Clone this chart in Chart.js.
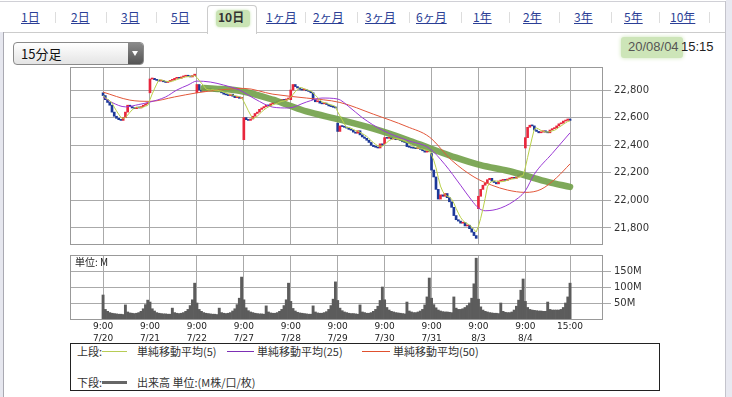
<!DOCTYPE html>
<html lang="ja">
<head>
<meta charset="utf-8">
<title>10日チャート</title>
<script src="https://cdn.jsdelivr.net/npm/chart.js@4.4.1/dist/chart.umd.min.js"></script>
<style>
body { margin: 0; width: 732px; height: 397px; background: #fff; position: relative; overflow: hidden;
       font-family: "Noto Sans CJK JP", sans-serif; color: #333; }
.abs { position: absolute; }
.tab { position: absolute; top: 8px; font-size: 12px; line-height: 18px; color: #2b3f96; text-decoration: underline; }
.sep { position: absolute; top: 12px; width: 1px; height: 11px; background: #ddd; }
#active { left: 207px; top: 5px; width: 48px; height: 28px; border: 1px solid #ccc; border-bottom: none;
          border-radius: 4px 4px 0 0; background: #fff; }
#activeHi { left: 216px; top: 10px; width: 34px; height: 17px; background: #c9e4b4; border-radius: 4px;
            box-shadow: 0 0 3px #c9e4b4; }
#sel { left: 13px; top: 42px; width: 129px; height: 21px; border: 1px solid #8a8a8a; border-radius: 4px;
       background: linear-gradient(#fff, #e4e4e4); overflow: hidden; }
#sel span { position: absolute; left: 7px; top: 1px; font-size: 13px; line-height: 19px; color: #111; }
#sel .arrow { position: absolute; right: 0; top: 0; width: 15px; height: 21px; background: linear-gradient(#8a8a8a, #555); }
#sel .arrow:after { content: ""; position: absolute; left: 4px; top: 8px; border-left: 3.5px solid transparent;
                    border-right: 3.5px solid transparent; border-top: 5px solid #fff; }
#dateHi { left: 621px; top: 37px; width: 62px; height: 21px; background: #cde5b8; border-radius: 3px; box-shadow: 0 0 4px #cde5b8; }
.dt { position: absolute; top: 39px; font-family: "Liberation Sans", Arial, sans-serif; font-size: 13px; line-height: 16px; }
canvas { position: absolute; }
#unit { left: 75px; top: 256px; font-size: 10px; line-height: 12px; color: #222; z-index: 2; }
#legend { left: 70px; top: 343px; width: 588px; height: 46px; border: 1px solid #222; background: #fff; }
.lg { position: absolute; font-size: 11px; line-height: 14px; color: #333; white-space: nowrap; }
.ln { position: absolute; height: 1px; }
</style>
</head>
<body>
<!-- frame -->
<div class="abs" style="left:0;top:1px;width:726px;height:1px;background:#d0d0d6"></div>
<div class="abs" style="left:0;top:32px;width:3px;height:365px;background:#e6e7ef"></div>
<div class="abs" style="left:3px;top:32px;width:1px;height:365px;background:#a9a9b2"></div>
<div class="abs" style="left:4px;top:32px;width:203px;height:1px;background:#ccc"></div>
<div class="abs" style="left:256px;top:32px;width:470px;height:1px;background:#ccc"></div>
<div class="abs" style="left:725px;top:1px;width:1px;height:396px;background:#c4c4cc"></div>
<div class="abs" style="left:726px;top:0;width:6px;height:397px;background:#e8e9f1"></div>

<!-- period tabs -->
<div class="abs" id="active"></div>
<div class="abs" id="activeHi"></div>
<span class="tab" style="left:21px">1日</span>
<span class="sep" style="left:55px"></span>
<span class="tab" style="left:71px">2日</span>
<span class="sep" style="left:106px"></span>
<span class="tab" style="left:121px">3日</span>
<span class="sep" style="left:156px"></span>
<span class="tab" style="left:171px">5日</span>
<span class="tab" style="left:218px;color:#333;text-decoration:none;font-weight:bold">10日</span>
<span class="tab" style="left:266px">1ヶ月</span>
<span class="sep" style="left:305px"></span>
<span class="tab" style="left:313px">2ヶ月</span>
<span class="sep" style="left:357px"></span>
<span class="tab" style="left:365px">3ヶ月</span>
<span class="sep" style="left:409px"></span>
<span class="tab" style="left:416px">6ヶ月</span>
<span class="sep" style="left:461px"></span>
<span class="tab" style="left:473px">1年</span>
<span class="sep" style="left:509px"></span>
<span class="tab" style="left:523px">2年</span>
<span class="sep" style="left:559px"></span>
<span class="tab" style="left:574px">3年</span>
<span class="sep" style="left:611px"></span>
<span class="tab" style="left:624px">5年</span>
<span class="sep" style="left:659px"></span>
<span class="tab" style="left:670px">10年</span>
<span class="sep" style="left:709px"></span>

<div class="abs" id="sel"><span>15分足</span><div class="arrow"></div></div>
<div class="abs" id="dateHi"></div>
<span class="dt" style="left:628px;color:#555">20/08/04</span>
<span class="dt" style="left:681px;color:#222">15:15</span>

<canvas id="price" width="620" height="190" style="left:60px;top:60px"></canvas>
<canvas id="volume" width="620" height="95" style="left:60px;top:250px"></canvas>
<div class="abs" id="unit">単位: M</div>

<div class="abs" id="legend"></div>
<span class="lg" style="left:77px;top:344px">上段:</span>
<div class="ln" style="left:102px;top:351px;width:25px;background:#b7cc55"></div>
<span class="lg" style="left:137px;top:344px">単純移動平均(5)</span>
<div class="ln" style="left:227px;top:351px;width:27px;background:#7d2fb5"></div>
<span class="lg" style="left:257px;top:344px">単純移動平均(25)</span>
<div class="ln" style="left:362px;top:351px;width:28px;background:#e0502e"></div>
<span class="lg" style="left:393px;top:344px">単純移動平均(50)</span>
<span class="lg" style="left:77px;top:375px">下段:</span>
<div class="ln" style="left:102px;top:381px;width:25px;height:3px;background:#666"></div>
<span class="lg" style="left:137px;top:375px">出来高 単位:(M株/口/枚)</span>

<script>
// 15-minute bars, 21 per day (9:00 ... 15:00)
const barsPerDay = 21;
const dayLabels = ['7/20', '7/21', '7/22', '7/27', '7/28', '7/29', '7/30', '7/31', '8/3', '8/4'];

// opening price of the first bar of each day
const dayOpens = [22780, 22780, 22780, 22440, 22730, 22560, 22410, 22340, 21940, 22380];

// closing prices
const closes = [
    // 7/20
    22760, 22730, 22710, 22690, 22640, 22610, 22595, 22585, 22580, 22600, 22640,
    22690, 22680, 22670, 22665, 22675, 22670, 22680, 22690, 22700, 22705,
    // 7/21
    22880, 22885, 22875, 22870, 22865, 22870, 22860, 22855, 22860, 22870, 22875,
    22885, 22890, 22885, 22895, 22900, 22905, 22900, 22895, 22905, 22915,
    // 7/22
    22840, 22800, 22790, 22810, 22800, 22810, 22795, 22800, 22790, 22800, 22790,
    22780, 22770, 22765, 22760, 22770, 22755, 22745, 22750, 22740, 22745,
    // 7/27
    22600, 22585, 22580, 22590, 22610, 22630, 22640, 22660, 22670, 22680, 22690,
    22685, 22700, 22710, 22705, 22720, 22725, 22730, 22725, 22735, 22740,
    // 7/28
    22800, 22840, 22825, 22815, 22805, 22800, 22800, 22795, 22790, 22780, 22730,
    22715, 22720, 22705, 22700, 22705, 22695, 22685, 22680, 22675, 22670,
    // 7/29
    22500, 22540, 22535, 22530, 22524, 22515, 22509, 22495, 22487, 22505, 22475,
    22460, 22450, 22436, 22420, 22400, 22390, 22385, 22380, 22410, 22400,
    // 7/30
    22455, 22450, 22455, 22445, 22450, 22440, 22440, 22436, 22425, 22420, 22390,
    22385, 22380, 22378, 22375, 22378, 22370, 22360, 22350, 22360, 22355,
    // 7/31
    22220, 22170, 22080, 22010, 22040, 22030, 22050, 22020, 21990, 21950, 21890,
    21860, 21850, 21835, 21840, 21815, 21820, 21795, 21770, 21745, 21725,
    // 8/3
    22030, 22080, 22110, 22125, 22150, 22160, 22140, 22130, 22120, 22140, 22145,
    22150, 22145, 22155, 22160, 22165, 22160, 22170, 22185, 22195, 22190,
    // 8/4
    22455, 22530, 22545, 22540, 22510, 22500, 22490, 22495, 22505, 22495, 22490,
    22510, 22520, 22525, 22540, 22555, 22560, 22575, 22580, 22590, 22580
];

// volume (M)
const volumes = [
    75, 30, 24, 20, 18, 17, 16, 15, 15, 14, 44, 22, 19, 18, 17, 18, 20, 24, 32, 45, 59,
    53, 32, 25, 20, 18, 17, 16, 16, 15, 15, 34, 20, 18, 17, 18, 20, 24, 30, 42, 60, 112,
    50, 30, 24, 20, 18, 17, 16, 15, 15, 14, 34, 20, 18, 17, 18, 20, 25, 32, 45, 65, 131,
    60, 35, 26, 22, 20, 18, 17, 16, 16, 15, 41, 22, 19, 18, 18, 20, 24, 30, 42, 60, 112,
    55, 33, 25, 21, 19, 18, 17, 16, 15, 15, 41, 22, 19, 18, 18, 20, 23, 30, 42, 62, 116,
    58, 34, 26, 22, 20, 18, 17, 17, 16, 15, 44, 22, 20, 18, 18, 20, 24, 30, 40, 58, 100,
    60, 36, 28, 24, 22, 20, 19, 18, 17, 16, 53, 25, 22, 20, 20, 22, 25, 30, 44, 69, 128,
    65, 45, 35, 28, 25, 23, 22, 22, 21, 20, 69, 34, 30, 30, 32, 36, 42, 50, 65, 110, 190,
    62, 38, 28, 24, 22, 20, 19, 18, 18, 17, 50, 24, 21, 20, 20, 22, 28, 40, 59, 90, 125,
    55, 36, 30, 28, 27, 26, 25, 25, 24, 24, 53, 30, 28, 28, 28, 28, 30, 36, 50, 69, 112
];

// moving averages (bar index -> price)
const ma25Idx = [0, 4, 10, 16, 21, 28, 33, 38, 42, 48, 54, 61, 68, 76, 83, 91, 98, 105, 110, 116,
                 125, 136, 146, 153, 160, 165, 168, 171, 178, 186, 189, 193, 201, 209];
const ma25Val = [22750, 22710, 22678, 22695, 22713, 22750, 22800, 22836, 22865, 22858, 22836, 22800,
                 22735, 22676, 22670, 22713, 22742, 22735, 22680, 22600, 22509, 22436, 22378, 22260,
                 22110, 22000, 21945, 21925, 21945, 22020, 22070, 22190, 22340, 22490];
const ma50Idx = [0, 12, 21, 32, 42, 52, 63, 76, 91, 106, 121, 136, 146, 156, 166, 174, 181, 189, 196, 203, 209];
const ma50Val = [22785, 22727, 22718, 22750, 22780, 22800, 22812, 22770, 22742, 22710, 22625, 22535,
                 22460, 22291, 22170, 22110, 22075, 22058, 22080, 22165, 22265];
const trendIdx = [45, 50, 61, 76, 83, 91, 106, 121, 136, 146, 158, 169, 181, 188, 199, 209];
const trendVal = [22815, 22810, 22795, 22730, 22690, 22645, 22585, 22520, 22440, 22380, 22310, 22255,
                  22215, 22185, 22135, 22098];

// axis ticks
const priceTicks = [21800, 22000, 22200, 22400, 22600, 22800];
const volumeTicks = [50, 100, 150];
const xTickIdx = [0, 21, 42, 63, 84, 105, 126, 147, 168, 189, 209];
const xTickTime = ['9:00', '9:00', '9:00', '9:00', '9:00', '9:00', '9:00', '9:00', '9:00', '9:00', '15:00'];
const xTickDate = dayLabels.concat(['']);

const xMin = -14.8, xMax = 223.3;

Chart.defaults.font.family = 'DejaVu Sans';
Chart.defaults.color = '#333';

function withComma(v) {
    return String(v).replace(/\B(?=(\d{3})+(?!\d))/g, ',');
}

function points(xs, ys) {
    return xs.map((x, i) => ({ x: x, y: ys[i] }));
}

// candles: open is the previous close, except for the first bar of a day
const candleUp = [];
const candleDown = [];
closes.forEach((c, i) => {
    const open = i % barsPerDay === 0 ? dayOpens[i / barsPerDay] : closes[i - 1];
    (c >= open ? candleUp : candleDown).push({ x: i, y: [open, c] });
});

// 5-bar simple moving average of the closes
const ma5 = closes.map((c, i) => {
    const win = closes.slice(Math.max(0, i - 4), i + 1);
    return { x: i, y: win.reduce((a, b) => a + b, 0) / win.length };
});

// plot frame (all four sides)
const framePlugin = {
    id: 'frame',
    beforeDatasetsDraw(chart) {
        const a = chart.chartArea;
        const ctx = chart.ctx;
        ctx.save();
        ctx.strokeStyle = '#999';
        ctx.lineWidth = 1;
        ctx.strokeRect(Math.round(a.left) + 0.5, Math.round(a.top) + 0.5,
                       Math.round(a.right - a.left), Math.round(a.bottom - a.top));
        ctx.restore();
    }
};

function xScale(showLabels) {
    return {
        type: 'linear', min: xMin, max: xMax, offset: false,
        afterBuildTicks: s => { s.ticks = xTickIdx.map(v => ({ value: v })); },
        afterFit: s => { s.height = showLabels ? 26 : 0; s.paddingLeft = 0; s.paddingRight = 0; },
        grid: { color: '#aaa', drawTicks: false, offset: false },
        border: { display: false },
        ticks: {
            display: showLabels, autoSkip: false, maxRotation: 0, minRotation: 0, padding: 2,
            font: { size: 9, lineHeight: 1.3 }, color: '#222',
            callback: v => {
                const k = xTickIdx.indexOf(v);
                return xTickDate[k] ? [xTickTime[k], xTickDate[k]] : xTickTime[k];
            }
        }
    };
}

function yScale(min, max, ticks, fmt) {
    return {
        position: 'right', min: min, max: max,
        afterBuildTicks: s => { s.ticks = ticks.map(v => ({ value: v })); },
        afterFit: s => { s.width = 78; s.paddingTop = 0; s.paddingBottom = 0; },
        grid: { color: '#aaa', tickLength: 9 },
        border: { display: false },
        ticks: { font: { size: 10 }, color: '#333', padding: 3, callback: fmt }
    };
}

new Chart(document.getElementById('price'), {
    type: 'line',
    data: {
        datasets: [
            { data: ma5, borderColor: '#b9d04a', borderWidth: 1, pointRadius: 0 },
            { data: points(ma25Idx, ma25Val), borderColor: '#9a3ad4', borderWidth: 1, pointRadius: 0,
              cubicInterpolationMode: 'monotone' },
            { data: points(ma50Idx, ma50Val), borderColor: '#e2573a', borderWidth: 1, pointRadius: 0,
              cubicInterpolationMode: 'monotone' },
            { data: points(trendIdx, trendVal), borderColor: 'rgba(116,162,76,0.92)', borderWidth: 6.5,
              pointRadius: 0, cubicInterpolationMode: 'monotone', borderCapStyle: 'round' },
            { type: 'bar', data: candleUp, backgroundColor: '#e8263c', barThickness: 2, minBarLength: 1, grouped: false },
            { type: 'bar', data: candleDown, backgroundColor: '#1c3898', barThickness: 2, minBarLength: 1, grouped: false }
        ]
    },
    options: {
        responsive: false, animation: false, devicePixelRatio: 1,
        layout: { padding: { left: 10, top: 7, right: 0, bottom: 6 } },
        plugins: { legend: { display: false }, tooltip: { enabled: false } },
        scales: {
            x: xScale(false),
            y: yScale(21684, 22967, priceTicks, v => withComma(v))
        }
    },
    plugins: [framePlugin]
});

new Chart(document.getElementById('volume'), {
    type: 'bar',
    data: {
        datasets: [{
            data: volumes.map((v, i) => ({ x: i, y: v })),
            backgroundColor: '#5c5c5c', barPercentage: 1, categoryPercentage: 1
        }]
    },
    options: {
        responsive: false, animation: false, devicePixelRatio: 1,
        layout: { padding: { left: 10, top: 5, right: 0, bottom: 0 } },
        plugins: { legend: { display: false }, tooltip: { enabled: false } },
        scales: {
            x: xScale(true),
            y: yScale(0, 200, volumeTicks, v => v + 'M')
        }
    },
    plugins: [framePlugin]
});
</script>
</body>
</html>
